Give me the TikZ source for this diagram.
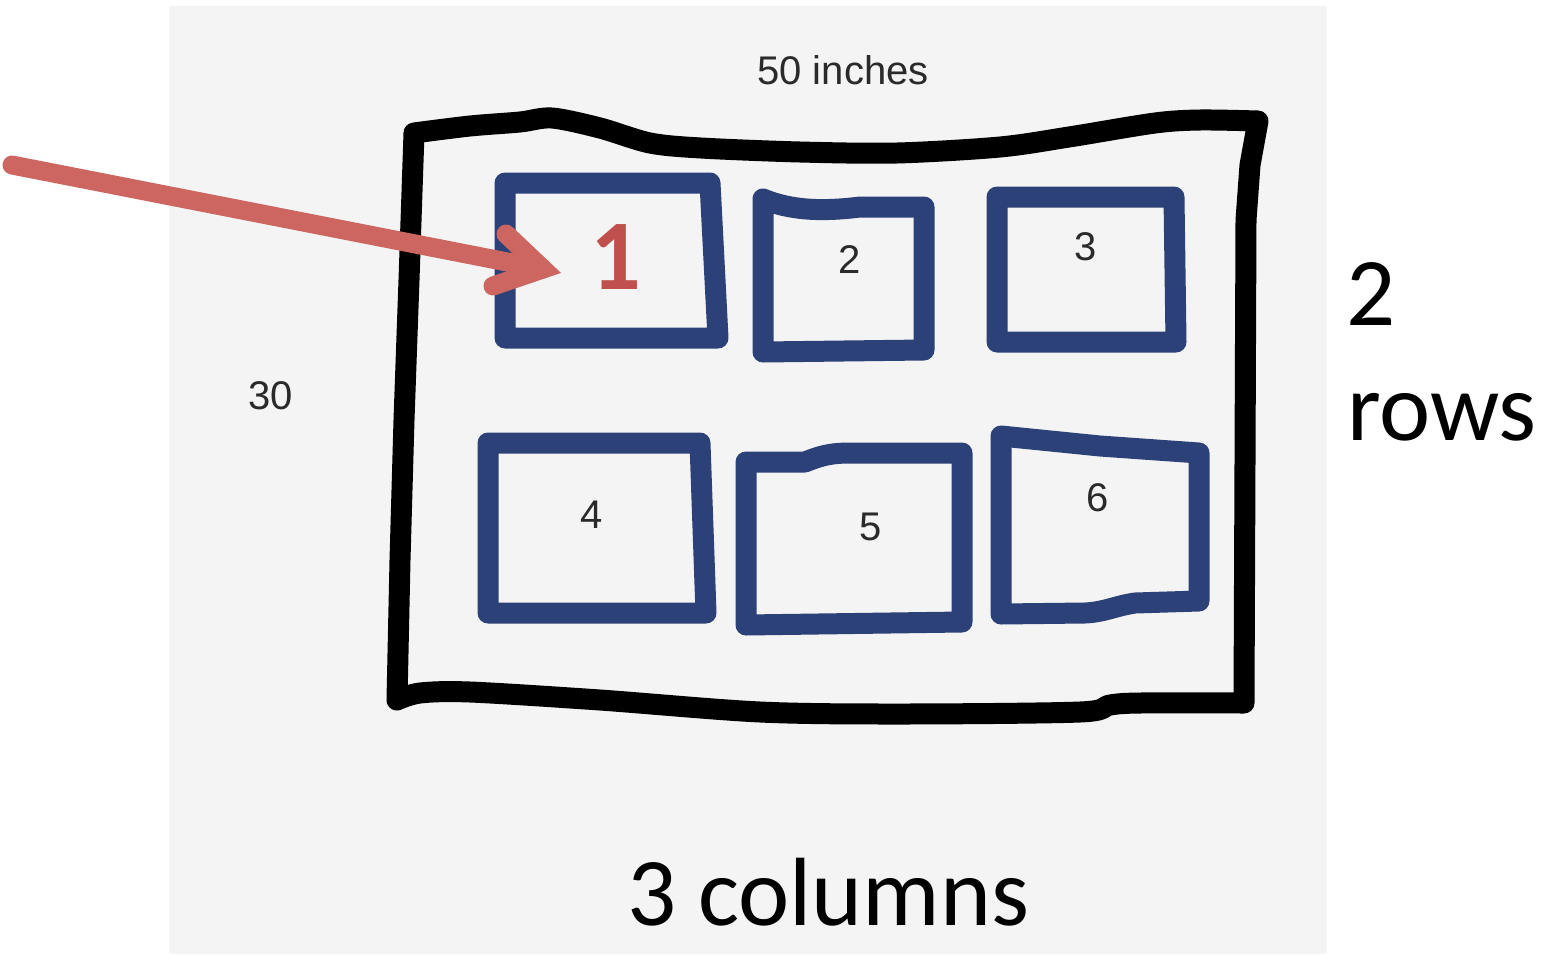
\documentclass[tikz,border=0pt]{standalone}
\usepackage{fontspec}
\setmainfont{Carlito}
\newfontfamily\helv{Liberation Sans}
\definecolor{bggray}{HTML}{F4F4F4}
\definecolor{cellblue}{HTML}{2C4177}
\definecolor{arrowred}{HTML}{CD6660}
\definecolor{numred}{HTML}{C0504D}
\definecolor{darktext}{HTML}{2A2A2A}
\begin{document}
\begin{tikzpicture}[x=1pt,y=-1pt,
  frame/.style={line width=21pt, line cap=round, line join=round, draw=black},
  cell/.style={line width=21pt, line cap=round, line join=round, draw=cellblue},
  small/.style={font=\helv\fontsize{40}{48}\selectfont, text=darktext, inner sep=0pt},
  big/.style={font=\fontsize{97}{110}\selectfont, inner sep=0pt, anchor=base west},
  pointer/.style={line width=19pt, line cap=round, draw=arrowred},
]
\useasboundingbox (0,0) rectangle (1548,954);
\fill[bggray] (169,6) rectangle (1327,954);

% outer hand-drawn frame
\draw[frame] plot[smooth,tension=0.5] coordinates {(414,133) (470,126) (520,122) (552,118) (600,128) (650,143) (701,148) (800,152) (897,153) (1000,147) (1069,137) (1155,123) (1200,120) (1258,121)}
  -- (1250,165) -- (1246,220) -- (1244,703)
  -- plot[smooth,tension=0.5] coordinates {(1244,703) (1140,703) (1110,705) (1080,712) (900,714) (760,712) (600,700) (470,692) (420,693) (397,700)}
  -- (400,560) -- (404,420) -- (409,280) -- cycle;

% six hand-drawn cells
\draw[cell] (505,183) -- (710,183) -- (718,338) -- (505,338) -- cycle;
\draw[cell] (763,199) .. controls (790,210) and (820,212) .. (860,207) -- (924,207) -- (924,350) -- (763,352) -- cycle;
\draw[cell] (997,197) -- (1174,197) -- (1176,342) -- (997,342) -- cycle;
\draw[cell] (488,443) -- (700,443) -- (706,613) -- (488,613) -- cycle;
\draw[cell] (746,462) -- (805,462) .. controls (820,456) and (830,453) .. (850,453) -- (962,453) -- (962,622) -- (746,625) -- cycle;
\draw[cell] (1001,436) -- (1100,446) -- (1199,453) -- (1199,601) -- (1135,603) .. controls (1115,606) and (1105,612) .. (1085,613) -- (1001,614) -- cycle;

% labels
\node[small] (t50) at (843,70) {50 inches};
\node[small] (t30) at (271,396) {30};
\node[font=\bfseries\fontsize{100}{110}\selectfont, text=numred, inner sep=0pt] (n1) at (616,257) {1};
\node[small] (n2) at (850,260) {2};
\node[small] (n3) at (1086,247) {3};
\node[small] (n4) at (592,515) {4};
\node[small] (n5) at (871,527) {5};
\node[small] (n6) at (1098,498) {6};

\node[big] (rows2) at (1346,325) {2};
\node[big] (rows) at (1347,440) {rows};
\node[big] (cols) at (627,925) {3 columns};

% red pointer arrow
\coordinate (arrstart) at (12,165);
\coordinate (tip) at (543,269);
\coordinate (barbA) at (506,234);
\coordinate (barbB) at (493,286);
\draw[pointer] (arrstart) -- (tip);
\draw[pointer, line join=miter] (barbA) -- (tip) -- (barbB);
\end{tikzpicture}
\end{document}
